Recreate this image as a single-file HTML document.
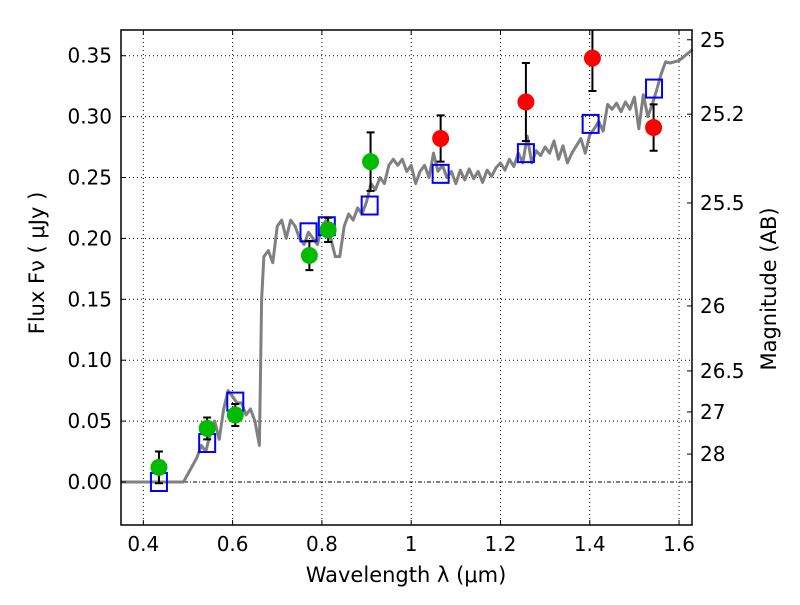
<!DOCTYPE html>
<html><head><meta charset="utf-8"><style>
body{margin:0;background:#fff;}
svg text{font-family:"DejaVu Sans","Liberation Sans",sans-serif;fill:#000;}
</style></head><body>
<svg id="chart" width="800" height="600" viewBox="0 0 800 600">
<rect width="800" height="600" fill="#fff"/>
<g id="grid"></g><g id="series"></g><g id="axes"></g>
</svg>
<script>
const specX=[0.35,0.49,0.52,0.53,0.54,0.55,0.56,0.57,0.58,0.59,0.60,0.61,0.62,0.63,0.64,0.65,0.66,0.665,0.67,0.68,0.69,0.70,0.71,0.72,0.73,0.74,0.75,0.76,0.77,0.78,0.79,0.80,0.81,0.82,0.83,0.84,0.85,0.86,0.87,0.88,0.89,0.90,0.91,0.92,0.93,0.94,0.95,0.96,0.97,0.98,0.99,1.00,1.01,1.02,1.03,1.04,1.05,1.06,1.07,1.08,1.09,1.10,1.11,1.12,1.13,1.14,1.15,1.16,1.17,1.18,1.19,1.20,1.21,1.22,1.23,1.24,1.25,1.26,1.27,1.28,1.29,1.30,1.31,1.32,1.33,1.34,1.35,1.36,1.37,1.38,1.39,1.40,1.41,1.42,1.43,1.44,1.45,1.46,1.47,1.48,1.49,1.50,1.51,1.52,1.53,1.54,1.55,1.56,1.57,1.58,1.60,1.63];
const specY=[0,0,0.02,0.03,0.025,0.04,0.05,0.035,0.06,0.075,0.07,0.065,0.065,0.055,0.06,0.05,0.03,0.15,0.185,0.19,0.18,0.21,0.215,0.20,0.215,0.21,0.20,0.195,0.205,0.20,0.195,0.21,0.215,0.20,0.185,0.185,0.21,0.22,0.215,0.225,0.22,0.23,0.245,0.24,0.25,0.245,0.26,0.265,0.26,0.265,0.255,0.26,0.245,0.255,0.26,0.25,0.27,0.255,0.26,0.25,0.255,0.245,0.256,0.248,0.257,0.249,0.255,0.246,0.256,0.251,0.258,0.262,0.256,0.265,0.259,0.27,0.262,0.284,0.262,0.272,0.268,0.275,0.27,0.28,0.265,0.276,0.262,0.27,0.276,0.282,0.27,0.285,0.29,0.296,0.288,0.31,0.306,0.311,0.304,0.312,0.306,0.316,0.29,0.318,0.30,0.31,0.322,0.335,0.345,0.344,0.346,0.355];
const greenX=[0.435,0.543,0.606,0.772,0.814,0.909];
const greenY=[0.012,0.044,0.055,0.186,0.207,0.263];
const greenErr=[0.013,0.009,0.009,0.012,0.010,0.024];
const redX=[1.066,1.257,1.406,1.543];
const redY=[0.282,0.312,0.348,0.291];
const redErr=[0.019,0.032,0.027,0.019];
const sqX=[0.435,0.543,0.606,0.770,0.811,0.907,1.066,1.257,1.402,1.544];
const sqY=[0.0,0.032,0.066,0.205,0.210,0.227,0.253,0.270,0.294,0.323];
const xTicks=[0.4,0.6,0.8,1.0,1.2,1.4,1.6];
const xTickLabels=["0.4","0.6","0.8","1","1.2","1.4","1.6"];
const yTicks=[0,0.05,0.1,0.15,0.2,0.25,0.3,0.35];
const yTickLabels=["0.00","0.05","0.10","0.15","0.20","0.25","0.30","0.35"];
const magTicks=[25,25.2,25.5,26,26.5,27,28];
const magLabels=["25","25.2","25.5","26","26.5","27","28"];

const L=121,R=692,T=30,B=525,X0=0.35,X1=1.6+13/447.5;
const sx=v=>L+(v-X0)/(X1-X0)*(R-L);
const sy=v=>482-v*1218;
const NS="http://www.w3.org/2000/svg";
function mk(tag,attrs,parent,text){const e=document.createElementNS(NS,tag);for(const k in attrs)e.setAttribute(k,attrs[k]);if(text!==undefined)e.textContent=text;document.getElementById(parent).appendChild(e);return e;}

xTicks.forEach((t,i)=>{const x=sx(t);
 const g=mk('line',{x1:x,x2:x,y1:T,y2:B,stroke:'#000','stroke-width':1,'stroke-dasharray':'1,3'},'grid');
 
 
 const tk=mk('line',{x1:x,x2:x,y1:B,y2:B-5,stroke:'#000'},'axes');
 
 
 const tk2=mk('line',{x1:x,x2:x,y1:T,y2:T+5,stroke:'#000'},'axes');
 
 
 const lb=mk('text',{x:x,y:B+26,'font-size':20,'text-anchor':'middle'},'axes',xTickLabels[i]);
 
 
});
yTicks.forEach((t,i)=>{const y=sy(t);
 const g=mk('line',{x1:L,x2:R,y1:y,y2:y,stroke:'#000','stroke-width':1,'stroke-dasharray':(t===0?'4,2,1,2':'1,3')},'grid');
 
 
 const tk=mk('line',{x1:L,x2:L+5,y1:y,y2:y,stroke:'#000'},'axes');
 
 
 const lb=mk('text',{x:L-9,y:y+7,'font-size':20,'text-anchor':'end'},'axes',yTickLabels[i]);
 
 
});
magTicks.forEach((m,i)=>{const y=sy(Math.pow(10,(23.9-m)/2.5));
 const tk=mk('line',{x1:R,x2:R-5,y1:y,y2:y,stroke:'#000'},'axes');
 
 
 const lb=mk('text',{x:R+8,y:y+7,'font-size':20},'axes',magLabels[i]);
 
 
});

const sp=mk('polyline',{points:specX.map((x,i)=>sx(x)+','+sy(specY[i])).join(' '),fill:'none',stroke:'#808080','stroke-width':3,'stroke-linejoin':'round'},'series');



function errbar(x,y,e){const X=sx(x),yt=Math.max(sy(y+e),T),yb=sy(y-e);
 const g=mk('path',{d:`M${X},${yt}V${yb}M${X-4},${yb}H${X+4}`+(sy(y+e)>=T?`M${X-4},${yt}H${X+4}`:''),stroke:'#000','stroke-width':2,fill:'none'},'series');
 
 }
sqX.forEach((x,i)=>{const s=mk('rect',{x:sx(x)-8,y:sy(sqY[i])-9,width:16,height:18,fill:'none',stroke:'#0000ff','stroke-width':2},'series');
 
 });
greenX.forEach((x,i)=>{errbar(x,greenY[i],greenErr[i]);
 const c=mk('circle',{cx:sx(x),cy:sy(greenY[i]),r:8.5,fill:'#00bb00'},'series');
 
 });
redX.forEach((x,i)=>{errbar(x,redY[i],redErr[i]);
 const c=mk('circle',{cx:sx(x),cy:sy(redY[i]),r:8.5,fill:'#ff0000'},'series');
 
 });

const fr=mk('rect',{x:L,y:T,width:R-L,height:B-T,fill:'none',stroke:'#000','stroke-width':1.5},'axes');


const xt=mk('text',{x:406,y:582,'font-size':21,'text-anchor':'middle'},'axes','Wavelength  λ (μm)');


const yt=mk('text',{x:0,y:0,'font-size':21,'text-anchor':'middle',transform:'translate(44,263) rotate(-90)'},'axes','Flux  Fν  ( μJy )');


const mt=mk('text',{x:0,y:0,'font-size':21,'text-anchor':'middle',transform:'translate(776,289) rotate(-90)'},'axes','Magnitude (AB)');


</script>
</body></html>
